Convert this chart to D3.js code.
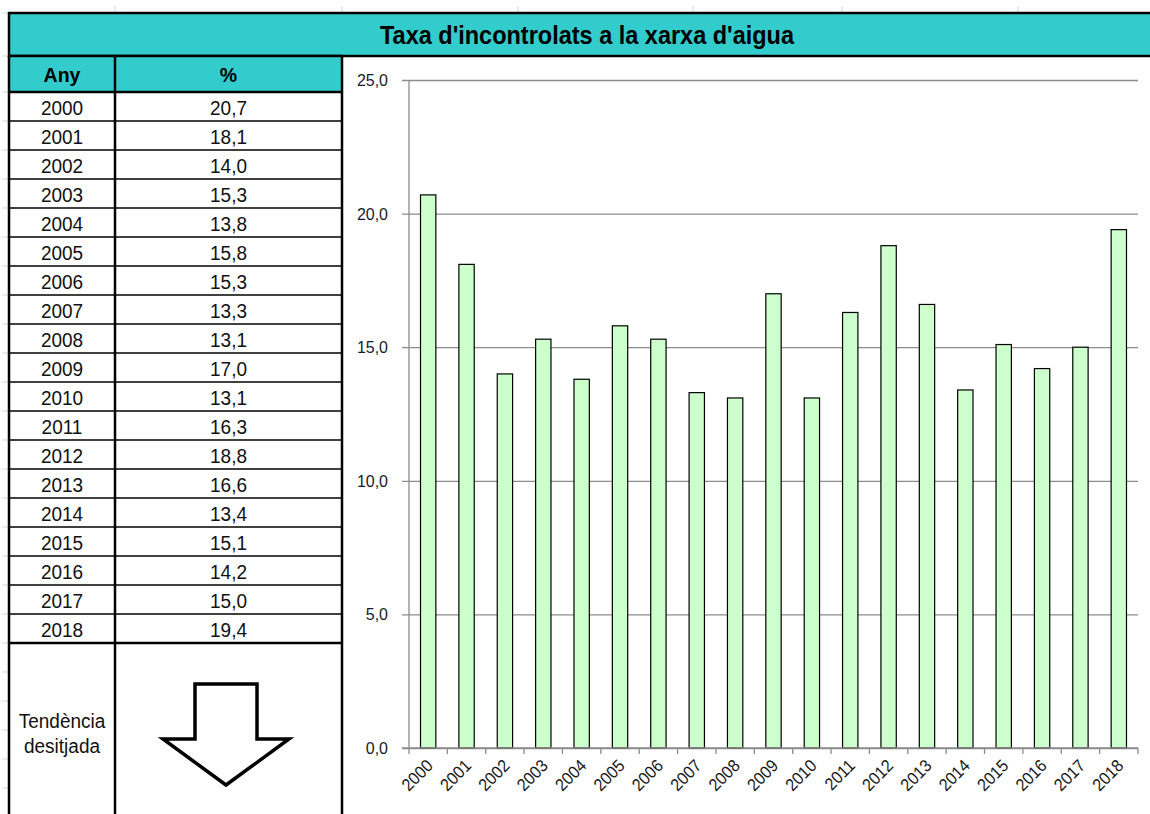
<!DOCTYPE html>
<html>
<head>
<meta charset="utf-8">
<script src="https://cdn.jsdelivr.net/npm/d3@7"></script>
<style>
  body { margin: 0; background: #fff; }
  svg { display: block; font-family: "Liberation Sans", Arial, sans-serif; }
</style>
</head>
<body>
<script>
// data
const years = ['2000', '2001', '2002', '2003', '2004', '2005', '2006', '2007', '2008', '2009',
    '2010', '2011', '2012', '2013', '2014', '2015', '2016', '2017', '2018'];
const values = [20.7, 18.1, 14.0, 15.3, 13.8, 15.8, 15.3, 13.3, 13.1, 17.0,
    13.1, 16.3, 18.8, 16.6, 13.4, 15.1, 14.2, 15.0, 19.4];
const yTicks = [0, 5, 10, 15, 20, 25];
const title = "Taxa d'incontrolats a la xarxa d'aigua";
const headers = ['Any', '%'];
const trendLabel = ['Tendència', 'desitjada'];

const w = 1150;
const h = 814;

// the original font is a bit taller than Liberation Sans
const stretch = 1.08;

// catalan style numbers: 20,7
const ca = d3.formatLocale({ decimal: ',', thousands: '.', grouping: [3], currency: ['', ' €'] });
const fmt = ca.format('.1f');

const svg = d3.select('body')
    .append('svg')
    .attr('width', w)
    .attr('height', h);

// faint spreadsheet gridlines showing round the edges
const sheetCols = [115, 342, 518, 693, 842, 1018];
svg.selectAll('.sheetcol')
    .data(sheetCols)
    .enter()
    .append('line')
    .attr('x1', d => d).attr('x2', d => d)
    .attr('y1', 6).attr('y2', 13)
    .attr('stroke', '#d0d7e5');

const sheetRows = [13, 56].concat(d3.range(92, h, 29));
svg.selectAll('.sheetrow')
    .data(sheetRows)
    .enter()
    .append('line')
    .attr('x1', 2).attr('x2', 9)
    .attr('y1', d => d).attr('y2', d => d)
    .attr('stroke', '#d0d7e5');

// table layout
const tLeft = 9, tMid = 115, tRight = 342;
const titleTop = 13, headTop = 56, rowTop = 92, rowH = 29;
const rowBottom = rowTop + rowH * years.length;
const teal = '#33cccc';

// title band
svg.append('rect')
    .attr('x', tLeft).attr('y', titleTop)
    .attr('width', w + 10 - tLeft).attr('height', headTop - titleTop)
    .attr('fill', teal)
    .attr('stroke', '#000').attr('stroke-width', 2.5);

svg.append('text')
    .attr('transform', `translate(587,43.5) scale(1,${stretch})`)
    .attr('text-anchor', 'middle')
    .attr('font-weight', 'bold')
    .attr('font-size', '23.5px')
    .attr('fill', '#000')
    .text(title);

// header row
svg.append('rect')
    .attr('x', tLeft).attr('y', headTop)
    .attr('width', tRight - tLeft).attr('height', rowTop - headTop)
    .attr('fill', teal);

svg.selectAll('.head')
    .data(headers)
    .enter()
    .append('text')
    .attr('transform', (d, i) => `translate(${i == 0 ? (tLeft + tMid) / 2 : (tMid + tRight) / 2},82) scale(1,${stretch})`)
    .attr('text-anchor', 'middle')
    .attr('font-weight', 'bold')
    .attr('font-size', '19.5px')
    .text(d => d);

// rows
svg.selectAll('.rowline')
    .data(d3.range(1, years.length))
    .enter()
    .append('line')
    .attr('x1', tLeft).attr('x2', tRight)
    .attr('y1', d => rowTop + d * rowH).attr('y2', d => rowTop + d * rowH)
    .attr('stroke', '#000').attr('stroke-width', 1.3);

svg.selectAll('.yearcell')
    .data(years)
    .enter()
    .append('text')
    .attr('transform', (d, i) => `translate(${(tLeft + tMid) / 2},${rowTop + i * rowH + 22.5}) scale(1,${stretch})`)
    .attr('text-anchor', 'middle')
    .attr('font-size', '19px')
    .attr('fill', '#111')
    .text(d => d);

svg.selectAll('.valcell')
    .data(values)
    .enter()
    .append('text')
    .attr('transform', (d, i) => `translate(${(tMid + tRight) / 2},${rowTop + i * rowH + 22.5}) scale(1,${stretch})`)
    .attr('text-anchor', 'middle')
    .attr('font-size', '19px')
    .attr('fill', '#111')
    .text(d => fmt(d));

// thick borders of the table
[headTop, rowTop, rowBottom].forEach(y => {
    svg.append('line')
        .attr('x1', tLeft).attr('x2', tRight)
        .attr('y1', y).attr('y2', y)
        .attr('stroke', '#000').attr('stroke-width', 2.5);
});
[tLeft, tMid, tRight].forEach(x => {
    svg.append('line')
        .attr('x1', x).attr('x2', x)
        .attr('y1', headTop).attr('y2', h + 5)
        .attr('stroke', '#000').attr('stroke-width', 2.5);
});

// wished trend
svg.selectAll('.trend')
    .data(trendLabel)
    .enter()
    .append('text')
    .attr('transform', (d, i) => `translate(${(tLeft + tMid) / 2},${728 + i * 25}) scale(1,${stretch})`)
    .attr('text-anchor', 'middle')
    .attr('font-size', '19px')
    .attr('fill', '#111')
    .text(d => d);

svg.append('path')
    .attr('d', 'M195,684 L257,684 L257,739 L289,739 L226,785 L163,739 L195,739 Z')
    .attr('fill', '#fff')
    .attr('stroke', '#000')
    .attr('stroke-width', 3.5)
    .attr('stroke-linejoin', 'miter');

// chart
const cLeft = 409, cRight = 1138, cTop = 80, cBottom = 748;

const xScale = d3.scaleBand()
    .domain(years)
    .range([cLeft, cRight])
    .paddingInner(0.6)
    .paddingOuter(0.3);

const yScale = d3.scaleLinear()
    .domain([0, 25])
    .range([cBottom, cTop]);

// gridlines + left ticks
const yAxis = d3.axisLeft(yScale)
    .tickValues(yTicks)
    .tickSize(-(cRight - cLeft))
    .tickSizeOuter(0)
    .tickFormat(d => fmt(d));

const yAxisG = svg.append('g')
    .attr('transform', `translate(${cLeft},0)`)
    .call(yAxis);

yAxisG.select('.domain').remove();
yAxisG.selectAll('.tick line')
    .attr('x1', -7)
    .attr('stroke', '#8c8c8c')
    .attr('stroke-width', 1.3);
yAxisG.selectAll('.tick text')
    .attr('x', null)
    .attr('dy', null)
    .attr('transform', `translate(-21,5.5) scale(1,${stretch})`)
    .attr('font-size', '16px')
    .attr('font-family', '"Liberation Sans", Arial, sans-serif')
    .attr('fill', '#1a1a2a');

svg.append('line')
    .attr('x1', cLeft).attr('x2', cLeft)
    .attr('y1', cTop).attr('y2', cBottom)
    .attr('stroke', '#8c8c8c').attr('stroke-width', 1.3);

// bars
svg.selectAll('.bar')
    .data(values)
    .enter()
    .append('rect')
    .attr('class', 'bar')
    .attr('x', (d, i) => xScale(years[i]))
    .attr('y', d => yScale(d))
    .attr('width', xScale.bandwidth())
    .attr('height', d => cBottom - yScale(d))
    .attr('fill', '#ccffcc')
    .attr('stroke', '#000')
    .attr('stroke-width', 1.2);

// x axis with category boundary ticks
const step = xScale.step();
const gap = step - xScale.bandwidth();
const bounds = years.map(y => xScale(y) - gap / 2).concat([cRight]);

svg.append('line')
    .attr('x1', cLeft - 7).attr('x2', cRight)
    .attr('y1', cBottom).attr('y2', cBottom)
    .attr('stroke', '#8c8c8c').attr('stroke-width', 1.3);

svg.selectAll('.xtick')
    .data(bounds)
    .enter()
    .append('line')
    .attr('x1', d => d).attr('x2', d => d)
    .attr('y1', cBottom).attr('y2', cBottom + 6)
    .attr('stroke', '#8c8c8c').attr('stroke-width', 1.3);

svg.selectAll('.xlabel')
    .data(years)
    .enter()
    .append('text')
    .attr('transform', d => `translate(${xScale(d) + xScale.bandwidth() / 2 - 3},${cBottom + 10}) rotate(-45) scale(1,${stretch})`)
    .attr('text-anchor', 'end')
    .attr('dy', '0.72em')
    .attr('font-size', '16px')
    .attr('fill', '#1a1a1a')
    .text(d => d);
</script>
</body>
</html>
